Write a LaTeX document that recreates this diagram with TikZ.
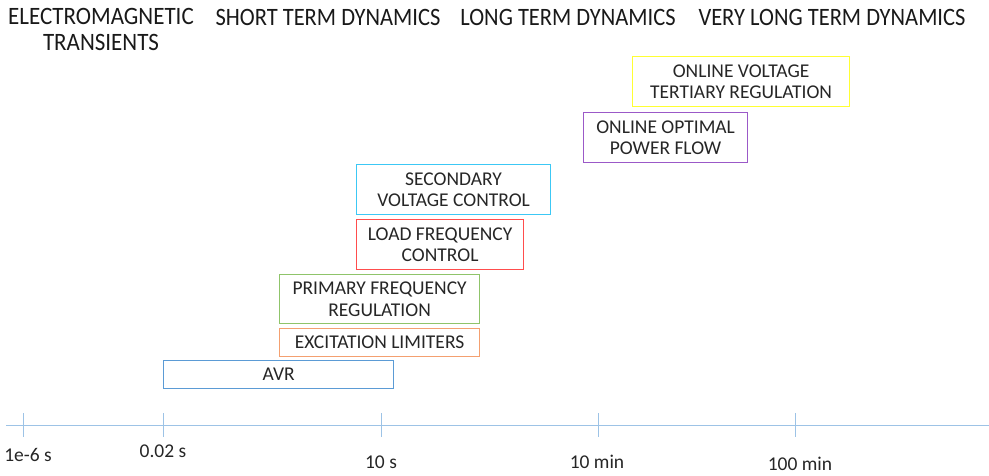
\documentclass[tikz,border=0pt]{standalone}
\usepackage{fontspec}
\setmainfont{Carlito}
\definecolor{cavr}{HTML}{5B9BD5}
\definecolor{cexc}{HTML}{F4A070}
\definecolor{cpfr}{HTML}{8FC46A}
\definecolor{clfc}{HTML}{FF4D4D}
\definecolor{csvc}{HTML}{3CC8F5}
\definecolor{copf}{HTML}{9B59C8}
\definecolor{cvtr}{HTML}{FFFF33}
\definecolor{caxis}{HTML}{9DC3E6}
\begin{document}
\begin{tikzpicture}[x=1pt,y=-1pt,
  ctrl/.style={draw=#1, line width=1.2pt, inner sep=0pt, align=center, anchor=north west,
     font=\fontsize{19.5}{21.5}\selectfont, text=black!85},
  hdr/.style={font=\fontsize{25}{26}\selectfont, text=black!90, inner sep=0pt},
  tlab/.style={font=\fontsize{19.5}{22}\selectfont, text=black!85, inner sep=0pt},
  tick/.style={draw=caxis, line width=0.8pt}]
\useasboundingbox (0,0) rectangle (989,475);
% headers
\node[hdr, align=center] (h1) at (101,29) {\scalebox{0.92}[1]{ELECTROMAGNETIC}\\\scalebox{0.92}[1]{TRANSIENTS}};
\node[hdr] (h2) at (328,17) {\scalebox{0.9}[1]{SHORT TERM DYNAMICS}};
\node[hdr] (h3) at (568,17) {\scalebox{0.9}[1]{LONG TERM DYNAMICS}};
\node[hdr] (h4) at (832,17) {\scalebox{0.9}[1]{VERY LONG TERM DYNAMICS}};
% boxes
\node[ctrl=cavr, minimum width=230pt, minimum height=28pt] (avr) at (163,360) {AVR};
\node[ctrl=cexc, minimum width=200pt, minimum height=28pt] (exc) at (279,328) {EXCITATION LIMITERS};
\node[ctrl=cpfr, minimum width=200pt, minimum height=49pt] (pfr) at (279,274) {PRIMARY FREQUENCY\\REGULATION};
\node[ctrl=clfc, minimum width=167pt, minimum height=50pt] (lfc) at (356,219) {LOAD FREQUENCY\\CONTROL};
\node[ctrl=csvc, minimum width=194pt, minimum height=50pt] (svc) at (356,164) {SECONDARY\\VOLTAGE CONTROL};
\node[ctrl=copf, minimum width=164pt, minimum height=50pt] (opf) at (583,112) {ONLINE OPTIMAL\\POWER FLOW};
\node[ctrl=cvtr, minimum width=217pt, minimum height=50pt] (vtr) at (632,56) {ONLINE VOLTAGE\\TERTIARY REGULATION};
% axis
\coordinate (a0) at (6,425);
\coordinate (a1) at (989,425);
\draw[tick] (a0) -- (a1);
\foreach \n/\x in {t1/23,t2/163,t3/381,t4/598,t5/795}{
  \coordinate (\n top) at (\x,413);
  \coordinate (\n bot) at (\x,437);
  \draw[tick] (\n top) -- (\n bot);
}
\node[tlab] (l1) at (28,455) {1e-6 s};
\node[tlab] (l2) at (163,451) {0.02 s};
\node[tlab] (l3) at (381,462) {10 s};
\node[tlab] (l4) at (597,462) {10 min};
\node[tlab] (l5) at (800,464) {100 min};
\end{tikzpicture}
\end{document}
